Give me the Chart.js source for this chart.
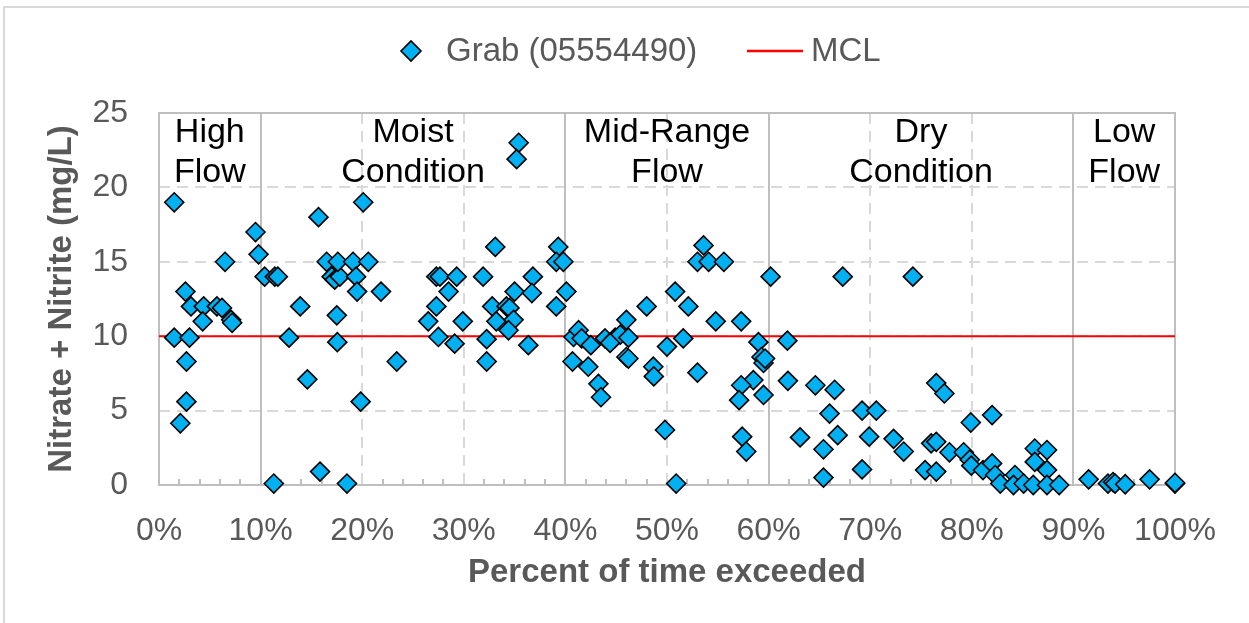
<!DOCTYPE html>
<html>
<head>
<meta charset="utf-8">
<script src="https://cdn.jsdelivr.net/npm/chart.js@4/dist/chart.umd.min.js"></script>
<style>
  html, body { margin: 0; padding: 0; background: #fff; }
  #wrap { width: 1249px; height: 623px; position: relative; }
</style>
</head>
<body>
<div id="wrap"><canvas id="c" width="1249" height="623"></canvas></div>
<script>
// Flow-duration plot of nitrate + nitrite grab samples, site 05554490
const pctExceeded = [
  1.5, 9.5, 9.8, 6.5, 2.6, 3.15, 4.4, 5.7, 6.2, 4.3, 7.1, 7.2, 1.5, 3.0, 2.7, 2.7, 2.1,
  10.4, 11.4, 11.7, 11.3, 12.8, 13.9, 14.6, 15.7, 15.85, 16.5, 17.0, 17.3, 17.8, 17.6, 17.5, 17.55,
  18.5, 19.1, 19.4, 19.5, 19.85, 20.1, 20.6, 21.85, 23.4,
  35.4, 35.2, 33.1, 39.3, 39.1, 39.8, 27.3, 27.65, 29.3, 31.9, 36.8, 28.5, 35.0, 36.7, 40.1,
  27.3, 32.8, 34.2, 34.5, 39.1, 26.5, 29.9, 33.2, 34.9, 34.4, 27.5, 29.1, 32.25, 36.35, 32.25,
  40.8, 41.3, 41.6, 42.5, 40.7, 42.25, 43.25, 43.5, 43.9, 44.9, 45.4, 46.2, 44.4, 46.0, 48.0,
  46.0, 46.2, 48.65, 48.7, 50.0, 49.8, 50.8, 53.6, 53.0, 54.1, 55.6, 52.1, 54.8, 57.3, 51.6,
  59.0, 59.3, 59.5, 59.65, 53.0, 58.5, 57.3, 59.5, 57.1, 57.4, 57.8, 50.9,
  60.2, 67.3, 74.2, 61.85, 61.9, 64.6, 66.5, 66.0, 69.2, 70.6, 63.1, 66.8, 69.9, 72.3, 73.3,
  65.4, 69.2, 65.4, 76.5, 77.3, 79.9, 82.0, 75.4, 76.5, 76.0, 76.5, 77.8, 79.2, 79.8, 79.95,
  81.1, 82.0, 82.3, 82.8, 84.25, 84.1, 85.1, 86.2, 87.4, 86.2, 87.4, 86.05, 87.4, 88.6,
  91.5, 93.4, 93.9, 94.1, 95.1, 97.5, 100, 100
];
const nitrateNitrite = [
  19.0, 17.0, 15.5, 15.0, 13.0, 12.0, 12.0, 12.0, 11.9, 11.0, 11.1, 10.9, 9.9, 9.9, 8.3, 5.6, 4.15,
  14.0, 14.0, 14.0, 0.1, 9.9, 12.0, 7.1, 18.0, 0.9, 15.0, 14.0, 13.8, 14.0, 15.0, 11.4, 9.6,
  0.1, 15.0, 14.0, 13.0, 5.6, 19.0, 15.0, 13.0, 8.3,
  23.0, 21.9, 16.0, 16.0, 15.0, 15.0, 14.0, 14.0, 14.0, 14.0, 14.0, 13.0, 13.0, 12.9, 13.0,
  12.0, 12.0, 12.0, 11.9, 12.0, 11.0, 11.0, 11.0, 11.1, 10.4, 9.95, 9.5, 9.8, 9.4, 8.3,
  9.95, 10.4, 9.85, 9.4, 8.3, 7.95, 6.8, 5.9, 9.85, 9.9, 10.1, 9.9, 9.55, 11.1, 12.0,
  8.6, 8.5, 7.95, 7.3, 9.3, 3.7, 13.0, 16.1, 15.0, 15.0, 15.0, 12.0, 11.0, 11.0, 9.85,
  9.6, 8.6, 8.2, 8.5, 7.55, 7.05, 6.7, 6.05, 5.7, 3.25, 2.25, 0.1,
  14.0, 14.0, 14.0, 9.7, 7.0, 6.7, 6.4, 4.8, 5.0, 5.0, 3.2, 3.35, 3.25, 3.1, 2.25,
  2.4, 1.05, 0.5, 6.85, 6.15, 4.2, 4.7, 1.0, 0.9, 2.8, 2.9, 2.2, 2.2, 1.7, 1.3,
  1.0, 1.45, 0.67, 0.1, 0.67, 0.0, 0.1, 2.45, 2.35, 1.55, 1.0, 0.0, 0.0, 0.0,
  0.38, 0.1, 0.2, 0.1, 0.05, 0.38, 0.1, 0.15
];
const xTickValues = [0, 10, 20, 30, 40, 50, 60, 70, 80, 90, 100];
const yTickValues = [0, 5, 10, 15, 20, 25];
const zoneBounds = [10, 40, 60, 90];
const zoneCenters = [5, 25, 50, 75, 95];
const zoneNames = [['High', 'Flow'], ['Moist', 'Condition'], ['Mid-Range', 'Flow'], ['Dry', 'Condition'], ['Low', 'Flow']];
const mclValue = 10;
const seriesName = 'Grab (05554490)';
const mclName = 'MCL';

const FONT = '"Liberation Sans", Arial, sans-serif';
const GREY_TEXT = '#595959';
const GRID_SOLID = '#bfbfbf';
const GRID_DASH = '#d9d9d9';
const MARKER_FILL = '#00B0F0';

const samples = pctExceeded.map((x, i) => ({ x: x, y: nitrateNitrite[i] }));

const decorations = {
  id: 'decorations',
  beforeDraw(chart) {
    const ctx = chart.ctx;
    ctx.save();
    ctx.fillStyle = '#ffffff';
    ctx.fillRect(0, 0, chart.width, chart.height);
    // outer frame
    ctx.strokeStyle = '#d9d9d9';
    ctx.lineWidth = 2;
    ctx.beginPath();
    ctx.moveTo(4, chart.height);
    ctx.lineTo(4, 7);
    ctx.lineTo(chart.width, 7);
    ctx.stroke();
    ctx.restore();
  },
  beforeDatasetsDraw(chart) {
    const ctx = chart.ctx;
    const xs = chart.scales.x, ys = chart.scales.y;
    const a = chart.chartArea;
    ctx.save();
    ctx.lineWidth = 2;
    // horizontal dashed gridlines
    ctx.strokeStyle = GRID_DASH;
    ctx.setLineDash([11, 7]);
    yTickValues.forEach(v => {
      if (v === 0 || v === 25) return;
      const py = Math.round(ys.getPixelForValue(v));
      ctx.beginPath();
      ctx.moveTo(a.left, py);
      ctx.lineTo(a.right, py);
      ctx.stroke();
    });
    // vertical dashed gridlines
    xTickValues.forEach(v => {
      if (v === 0 || v === 100 || zoneBounds.includes(v)) return;
      const px = Math.round(xs.getPixelForValue(v));
      ctx.beginPath();
      ctx.moveTo(px, a.top);
      ctx.lineTo(px, a.bottom);
      ctx.stroke();
    });
    ctx.setLineDash([]);
    // solid frame and flow-zone boundaries
    ctx.strokeStyle = GRID_SOLID;
    [0, 100].concat(zoneBounds).forEach(v => {
      const px = Math.round(xs.getPixelForValue(v));
      ctx.beginPath();
      ctx.moveTo(px, a.top);
      ctx.lineTo(px, a.bottom);
      ctx.stroke();
    });
    [0, 25].forEach(v => {
      const py = Math.round(ys.getPixelForValue(v));
      ctx.beginPath();
      ctx.moveTo(a.left - 1, py);
      ctx.lineTo(a.right + 1, py);
      ctx.stroke();
    });
    // minor tick marks every 2%
    for (let v = 2; v < 100; v += 2) {
      if (v % 10 === 0) continue;
      const px = Math.round(xs.getPixelForValue(v));
      ctx.beginPath();
      ctx.moveTo(px, a.bottom);
      ctx.lineTo(px, a.bottom - 6);
      ctx.stroke();
    }
    // zone labels
    ctx.fillStyle = '#000000';
    ctx.font = '34px ' + FONT;
    ctx.textAlign = 'center';
    ctx.textBaseline = 'alphabetic';
    zoneCenters.forEach((c, i) => {
      const px = xs.getPixelForValue(c);
      ctx.fillText(zoneNames[i][0], px, a.top + 29);
      ctx.fillText(zoneNames[i][1], px, a.top + 69);
    });
    ctx.restore();
  },
  afterDraw(chart) {
    const ctx = chart.ctx;
    ctx.save();
    const ly = 51;
    ctx.fillStyle = MARKER_FILL;
    ctx.strokeStyle = '#000000';
    Chart.helpers.drawPoint(ctx, { pointStyle: 'rectRot', radius: 10, borderWidth: 1.6, rotation: 0 }, 411, ly);
    ctx.font = '33px ' + FONT;
    ctx.fillStyle = GREY_TEXT;
    ctx.textAlign = 'left';
    ctx.textBaseline = 'middle';
    ctx.fillText(seriesName, 446, ly + 1);
    ctx.strokeStyle = '#FF0000';
    ctx.lineWidth = 2.5;
    ctx.beginPath();
    ctx.moveTo(747, ly);
    ctx.lineTo(803, ly);
    ctx.stroke();
    ctx.fillText(mclName, 811, ly + 1);
    ctx.restore();
  }
};

new Chart(document.getElementById('c'), {
  data: {
    datasets: [
      {
        type: 'scatter',
        label: seriesName,
        data: samples,
        pointStyle: 'rectRot',
        pointRadius: 9.5,
        pointHoverRadius: 9.5,
        backgroundColor: MARKER_FILL,
        borderColor: '#000000',
        borderWidth: 1.6,
        clip: false,
        order: 0
      },
      {
        type: 'line',
        label: mclName,
        data: [{ x: 0, y: mclValue }, { x: 100, y: mclValue }],
        borderColor: '#FF0000',
        borderWidth: 2,
        pointRadius: 0,
        fill: false,
        order: 1
      }
    ]
  },
  options: {
    responsive: false,
    animation: false,
    events: [],
    layout: { padding: { left: 0, right: 74, top: 113, bottom: 0 } },
    plugins: { legend: { display: false }, tooltip: { enabled: false } },
    scales: {
      x: {
        type: 'linear',
        min: 0,
        max: 100,
        afterBuildTicks: s => { s.ticks = xTickValues.map(v => ({ value: v })); },
        afterFit: s => { s.height = 138; },
        grid: { display: false, drawTicks: false },
        border: { display: false },
        ticks: {
          callback: v => v + '%',
          color: GREY_TEXT,
          font: { family: FONT, size: 32 },
          padding: 27,
          maxRotation: 0,
          autoSkip: false
        },
        title: {
          display: true,
          text: 'Percent of time exceeded',
          color: GREY_TEXT,
          font: { family: FONT, size: 33, weight: 'bold' },
          padding: { top: 0, bottom: 30 }
        }
      },
      y: {
        type: 'linear',
        min: 0,
        max: 25,
        afterBuildTicks: s => { s.ticks = yTickValues.map(v => ({ value: v })); },
        afterFit: s => { s.width = 159; },
        grid: { display: false, drawTicks: false },
        border: { display: false },
        ticks: {
          color: GREY_TEXT,
          font: { family: FONT, size: 32 },
          padding: 31
        },
        title: {
          display: true,
          text: 'Nitrate + Nitrite (mg/L)',
          color: GREY_TEXT,
          font: { family: FONT, size: 33, weight: 'bold' },
          padding: { top: 42, bottom: 0 }
        }
      }
    }
  },
  plugins: [decorations]
});
</script>
</body>
</html>
